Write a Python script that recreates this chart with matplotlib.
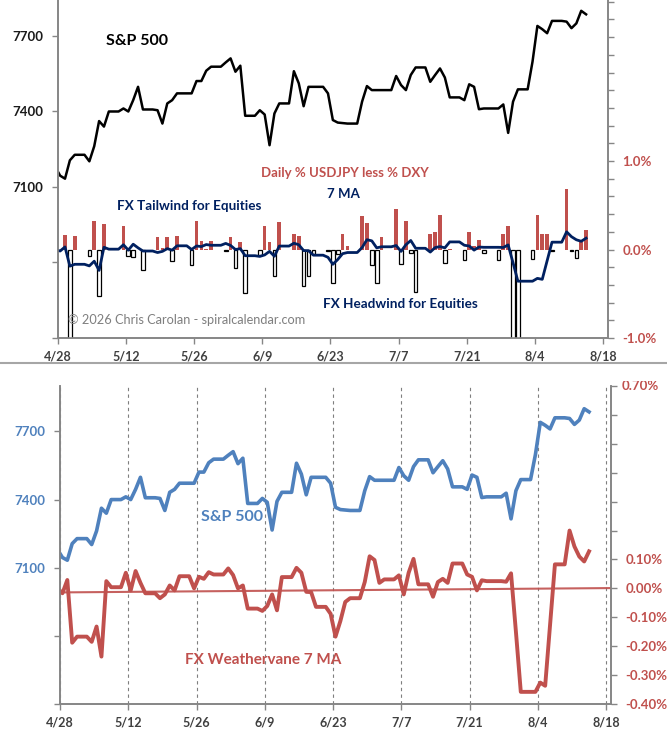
import numpy as np
import pandas as pd
import matplotlib
matplotlib.use("Agg")
import matplotlib.pyplot as plt
from matplotlib.lines import Line2D
from matplotlib.ticker import FuncFormatter, MultipleLocator
from matplotlib.transforms import Bbox, TransformedBbox

plt.rcParams['font.family'] = ['Lato', 'DejaVu Sans']

# calendar days 4/27 .. 8/14 (weekends carry the Friday value)
dates = pd.date_range('2026-04-27', '2026-08-14', freq='D')

spx = [
    7180,
    7145, 7133, 7206, 7228, 7228, 7228,
    7202, 7262, 7362, 7340, 7400, 7400, 7400,
    7412, 7400, 7445, 7498, 7408, 7408, 7408,
    7405, 7352, 7432, 7445, 7472, 7472, 7472,
    7472, 7521, 7521, 7562, 7578, 7578, 7578,
    7595, 7611, 7558, 7582, 7383, 7383, 7383,
    7405, 7388, 7266, 7392, 7432, 7432, 7432,
    7560, 7512, 7421, 7498, 7498, 7498, 7498,
    7472, 7366, 7356, 7354, 7352, 7352, 7352,
    7439, 7501, 7485, 7485, 7485, 7485, 7485,
    7541, 7505, 7485, 7545, 7575, 7575, 7575,
    7518, 7545, 7571, 7535, 7456, 7456, 7456,
    7445, 7508, 7498, 7409, 7412, 7412, 7412,
    7412, 7428, 7315, 7439, 7488, 7488, 7488,
    7598, 7740, 7727, 7711, 7760, 7760, 7760,
    7757, 7731, 7750, 7800, 7786,
]

# daily % USDJPY less % DXY (0 = no bar)
fx_daily = [
    0,
    0, 0.169, -1.45, 0.157, 0, 0,
    -0.075, 0.326, -0.524, 0.292, 0, 0, 0,
    0.27, -0.075, -0.082, 0, -0.232, 0, 0,
    0.139, 0.02, 0.139, -0.13, 0.15, 0, 0,
    -0.176, 0.318, 0.10, 0.01, 0.10, 0, 0,
    -0.015, 0.139, -0.206, 0.082, -0.487, 0, 0,
    -0.067, 0.262, 0.082, -0.30, 0.307, 0, 0,
    0.18, 0.15, -0.412, -0.30, -0.045, 0, 0,
    -0.015, -0.382, -0.056, 0.18, 0.045, 0, 0,
    0.375, 0.30, -0.18, -0.375, 0.139, 0, 0,
    0.46, -0.16, 0.326, -0.037, -0.476, 0, 0,
    0.18, 0.199, 0.393, -0.15, 0.007, 0, 0,
    -0.12, 0.195, 0.045, 0.112, -0.037, 0, 0,
    -0.12, 0.18, 0.262, -1.6, -1.5, 0, 0,
    -0.11, 0.39, 0.18, 0.17, -0.02, 0, 0,
    0.685, -0.02, -0.094, 0.086, 0.225,
]

# FX Weathervane 7 MA (%)
fx_ma7 = [
    0.0,
    -0.017, 0.029, -0.188, -0.167, -0.167, -0.167,
    -0.185, -0.132, -0.236, 0.025, 0.004, 0.004, 0.004,
    0.054, -0.007, 0.060, 0.019, -0.017, -0.017, -0.017,
    -0.034, -0.021, 0.010, -0.007, 0.042, 0.042, 0.042,
    0.000, 0.040, 0.033, 0.056, 0.048, 0.048, 0.048,
    0.069, 0.046, 0.000, 0.010, -0.070, -0.070, -0.070,
    -0.078, -0.061, -0.021, -0.076, 0.039, 0.039, 0.039,
    0.071, 0.054, -0.012, -0.013, -0.064, -0.064, -0.064,
    -0.088, -0.167, -0.113, -0.047, -0.034, -0.034, -0.034,
    0.022, 0.111, 0.098, 0.019, 0.031, 0.031, 0.031,
    0.045, -0.021, 0.054, 0.102, 0.014, 0.014, 0.014,
    -0.029, 0.022, 0.033, 0.019, 0.086, 0.086, 0.086,
    0.048, 0.040, -0.007, 0.028, 0.025, 0.025, 0.025,
    0.025, 0.023, 0.052, -0.150, -0.358, -0.358, -0.358,
    -0.358, -0.326, -0.337, -0.127, 0.083, 0.083, 0.083,
    0.200, 0.145, 0.110, 0.093, 0.128,
]

trend_ends = [-0.014, 0.001]
tick_labels = ['4/28', '5/12', '5/26', '6/9', '6/23', '7/7', '7/21', '8/4', '8/18']

RED = '#C0504D'
NAVY = '#002060'
BLUE = '#4F81BD'
SPINE = '#868686'
LBL = '#404040'

W, H = 667, 745
start = pd.Timestamp('2026-04-28')
x = np.asarray((dates - start).days) + 0.5
xticks = np.arange(0, 113, 14)


def pct_fmt(keep, digits):
    def f(v, pos):
        return f'{v:.{digits}f}%' if keep(v) else ''
    return FuncFormatter(f)


def style_axes(ax, axr):
    for a in (ax, axr):
        a.spines['top'].set_visible(False)
        for s in ('left', 'right', 'bottom'):
            a.spines[s].set_color(SPINE)
            a.spines[s].set_linewidth(1.2)
    ax.set_xlim(0, 113)
    ax.set_xticks(xticks)
    ax.set_xticklabels(tick_labels)
    ax.tick_params(axis='x', direction='out', length=4, width=1, color=SPINE,
                   pad=5, labelsize=9, labelcolor=LBL)
    ax.tick_params(axis='y', direction='out', length=4.5, width=1, color=SPINE,
                   pad=6, labelsize=9.5)
    axr.tick_params(axis='y', direction='out', length=4.5, width=1, color=SPINE,
                    pad=6, labelsize=9.5, labelcolor=RED)
    for t in ax.get_xticklabels() + ax.get_yticklabels() + axr.get_yticklabels():
        t.set_fontweight('bold')


fig = plt.figure(figsize=(W / 100, H / 100), dpi=100)


def ftext(px, py, s, **kw):
    return fig.text(px / W, 1 - py / H, s, **kw)


# ---- top panel ----
ax1 = fig.add_axes([57.7 / W, 1 - 338 / H, (608 - 57.7) / W, 338 / H])
ax1.plot(x, spx, color='black', lw=1.8)
ax1.set_ylim(6500, 7843)
ax1.set_yticks([6500, 6800, 7100, 7400, 7700])
ax1.set_yticklabels(['', '', '7100', '7400', '7700'])

ax1r = ax1.twinx()
fx = np.array(fx_daily)
up = fx > 0
dn = fx < 0
ax1r.bar(x[up], fx[up], width=0.75, color=RED, linewidth=0)
ax1r.bar(x[dn], fx[dn], width=0.75, color='white', edgecolor='black', linewidth=0.9)
ax1r.plot(x, fx_ma7, color=NAVY, lw=2)
ax1r.set_ylim(-1.0, 2.82)
ax1r.yaxis.set_major_locator(MultipleLocator(0.2))
ax1r.yaxis.set_major_formatter(pct_fmt(lambda v: abs(v - round(v)) < 1e-6 and abs(v) <= 1.01, 1))
style_axes(ax1, ax1r)
ax1.tick_params(axis='y', labelcolor='#1A1A1A')

ftext(106, 41, 'S&P 500', fontsize=11.5, fontweight='bold', color='black', va='center')
ftext(345, 173, 'Daily % USDJPY less % DXY', fontsize=9.5, fontweight='bold', color=RED,
      ha='center', va='center')
ftext(343, 194, '7 MA', fontsize=9.5, fontweight='bold', color=NAVY, ha='center', va='center')
ftext(117, 206, 'FX Tailwind for Equities', fontsize=9.7, fontweight='bold', color=NAVY, va='center')
ftext(323, 304, 'FX Headwind for Equities', fontsize=9.7, fontweight='bold', color=NAVY, va='center')
ftext(68, 320, '\u00a9 2026 Chris Carolan - spiralcalendar.com', fontsize=9.2, color='#7F7F7F',
      va='center')

fig.add_artist(Line2D([0, 1], [1 - 363 / H] * 2, color='#A6A6A6', lw=1.5))

# ---- bottom panel ----
ax2 = fig.add_axes([60 / W, 1 - 704 / H, (611 - 60) / W, (704 - 386) / H])
ax2.plot(x, spx, color=BLUE, lw=2.6)
ax2.set_ylim(6500, 7900)
ax2.set_yticks([6500, 6800, 7100, 7400, 7700])
ax2.set_yticklabels(['', '', '7100', '7400', '7700'])
ax2.xaxis.grid(True, ls=(0, (3, 3)), color='#7F7F7F', lw=0.8)

ax2r = ax2.twinx()
ax2r.plot([0, 113], trend_ends, color=RED, lw=1.5, alpha=0.9)
ax2r.plot(x, fx_ma7, color=RED, lw=2.8)
ax2r.set_ylim(-0.40, 0.70)
ax2r.yaxis.set_major_locator(MultipleLocator(0.1))
ax2r.yaxis.set_major_formatter(pct_fmt(lambda v: v < 0.15, 2))
style_axes(ax2, ax2r)
ax2.tick_params(axis='y', labelcolor=BLUE)

# the top label of the lower chart is cut off in the original
top_lbl = ftext(622, 386, '0.70%', fontsize=9.5, fontweight='bold', color=RED, va='center')
top_lbl.set_clip_box(TransformedBbox(Bbox([[0, 0], [1, 1 - 381 / H]]), fig.transFigure))
top_lbl.set_clip_on(True)

ftext(201, 517, 'S&P 500', fontsize=11.5, fontweight='bold', color=BLUE, va='center')
ftext(185, 660, 'FX Weathervane 7 MA', fontsize=11, fontweight='bold', color=RED, va='center')

fig.savefig('out.png', dpi=100)
